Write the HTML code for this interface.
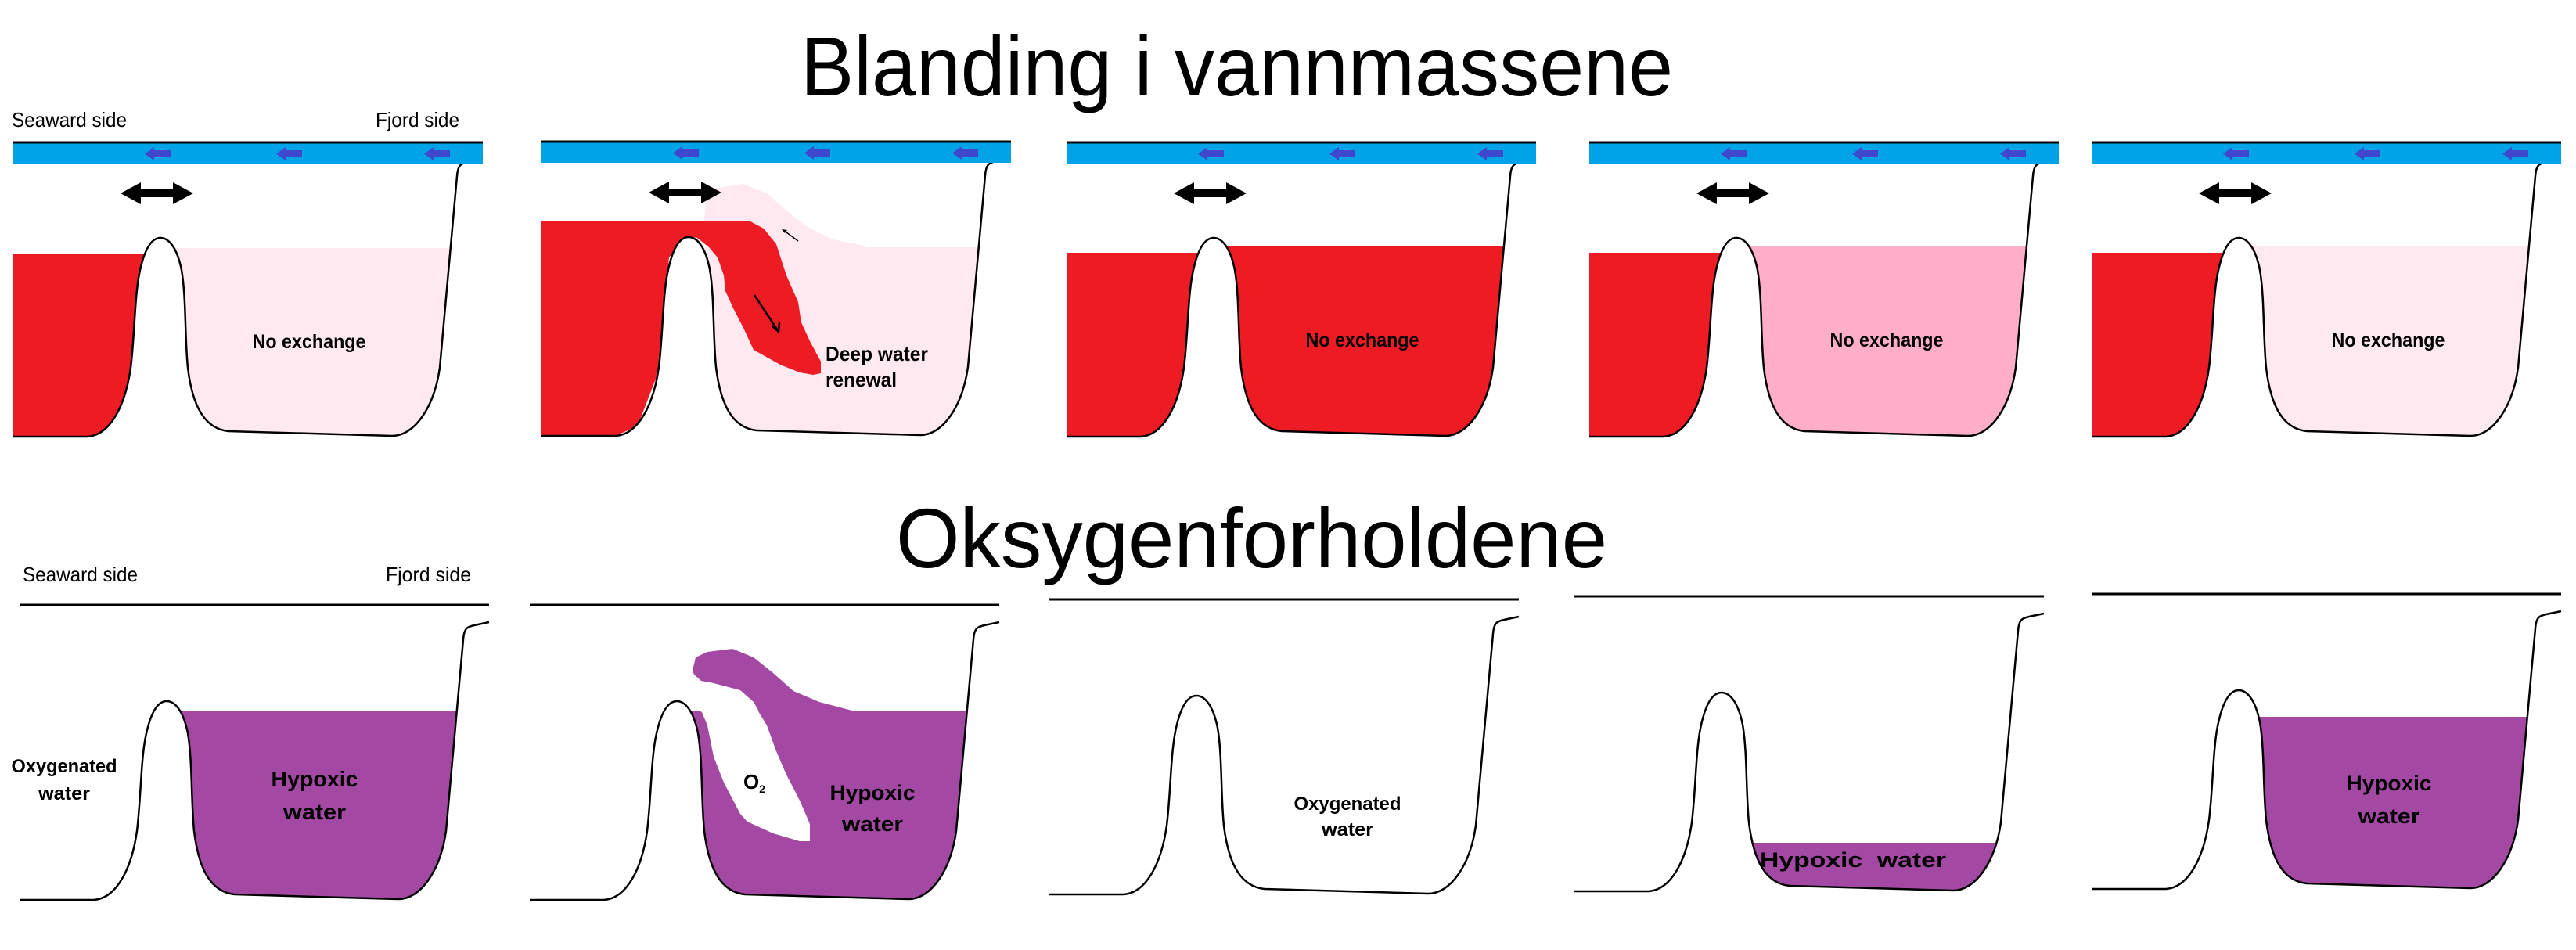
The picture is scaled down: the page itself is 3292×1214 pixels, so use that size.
<!DOCTYPE html>
<html><head><meta charset="utf-8"><style>html,body{margin:0;padding:0;background:#fff}svg{display:block}</style></head>
<body>
<svg xmlns="http://www.w3.org/2000/svg" width="3292" height="1214" viewBox="0 0 3292 1214" font-family="'Liberation Sans', sans-serif">
<defs>
<clipPath id="bc" clipPathUnits="userSpaceOnUse"><path d="M205,304 C215,304 226,315 232,345 C238,380 236,430 240,470 C246,520 262,548 292,551 L501,557 C530,557 555,520 562,470 L584,225 L584,150 L205,150 Z"/></clipPath>
<clipPath id="sc" clipPathUnits="userSpaceOnUse"><path d="M17,150 L205,150 L205,304 C195,304 185,315 178,350 C172,380 172,430 167,470 C160,520 140,556 112,558 L17,558 Z"/></clipPath>
<g id="sill"><path d="M112,558 C140,556 160,520 167,470 C172,430 172,380 178,350 C185,315 195,304 205,304 C215,304 226,315 232,345 C238,380 236,430 240,470 C246,520 262,548 292,551 Z" fill="#fff"/></g>
<g id="outline"><path d="M17,558 L112,558 C140,556 160,520 167,470 C172,430 172,380 178,350 C185,315 195,304 205,304 C215,304 226,315 232,345 C238,380 236,430 240,470 C246,520 262,548 292,551 L501,557 C530,557 555,520 562,470 L584,225 C585,212 588,209 598,207 L617,203" fill="none" stroke="#000" stroke-width="2.5"/></g>
<g id="bar">
<rect x="17" y="183" width="600" height="26" fill="#00A2E8"/>
<line x1="17" y1="182" x2="617" y2="182" stroke="#000" stroke-width="3"/>
<g fill="#3F48CC">
<path d="M185,196.5 L197,188 L197,192 L218,192 L218,201 L197,201 L197,205 Z"/>
<path d="M353,196.5 L365,188 L365,192 L386,192 L386,201 L365,201 L365,205 Z"/>
<path d="M542,196.5 L554,188 L554,192 L575,192 L575,201 L554,201 L554,205 Z"/>
</g></g>
<path id="darr" d="M154,247 L180,233 L180,242 L221,242 L221,233 L247,247 L221,261 L221,252 L180,252 L180,261 Z" fill="#000"/>
<line id="bline" x1="17" y1="181" x2="617" y2="181" stroke="#000" stroke-width="3"/>
</defs>

<text x="1023" y="122" font-size="108" textLength="1115" lengthAdjust="spacingAndGlyphs">Blanding i vannmassene</text>
<text x="1145" y="725" font-size="108" textLength="909" lengthAdjust="spacingAndGlyphs">Oksygenforholdene</text>

<!-- TOP 1 -->
<g>
<rect x="200" y="317" width="400" height="250" fill="#FDE9EF" clip-path="url(#bc)"/>
<rect x="17" y="325" width="200" height="240" fill="#ED1C24" clip-path="url(#sc)"/>
<use href="#sill"/><use href="#outline"/><use href="#bar"/><use href="#darr"/>
<text x="15" y="162" font-size="26" textLength="147" lengthAdjust="spacingAndGlyphs">Seaward side</text>
<text x="480" y="162" font-size="26" textLength="107" lengthAdjust="spacingAndGlyphs">Fjord side</text>
<text x="395" y="445" font-size="25" font-weight="bold" text-anchor="middle" textLength="145" lengthAdjust="spacingAndGlyphs">No exchange</text>
</g>

<!-- TOP 2 -->
<g transform="translate(675,-1)">
<rect x="200" y="317" width="400" height="250" fill="#FDE9EF" clip-path="url(#bc)"/>
<path d="M225,283 L225,280 L227,253 L237,242 L275,236 L305,248 L330,270 L355,290 L389,307 L431,315 L431,330 L330,330 L282,283 Z" fill="#FDE9EF"/>
<path d="M17,283 L282,283 L301,293 L317,313 L330,353 L345,387 L349,413 L360,437 L374,463 L374,478 L364,480 L347,477 L322,467 L288,448 L275,420 L263,397 L252,373 L250,353 L242,330 L231,317 L216,305 L205,303 L180,330 L165,480 L140,545 L112,558 L17,558 Z" fill="#ED1C24"/>
<use href="#sill"/><use href="#outline"/><use href="#bar"/><use href="#darr"/>
<line x1="345" y1="309" x2="326" y2="295" stroke="#000" stroke-width="1.5"/>
<path d="M324,294 L331,295 L328,299 Z" fill="#000"/>
<line x1="289" y1="378" x2="320" y2="425" stroke="#000" stroke-width="2.5"/>
<path d="M311,417 L320,425 L321,413" fill="none" stroke="#000" stroke-width="2.5"/>
<text x="380" y="462" font-size="26" font-weight="bold" textLength="131" lengthAdjust="spacingAndGlyphs">Deep water</text>
<text x="380" y="495" font-size="26" font-weight="bold" textLength="91" lengthAdjust="spacingAndGlyphs">renewal</text>
</g>

<!-- TOP 3 -->
<g transform="translate(1346,0)">
<rect x="200" y="315" width="400" height="250" fill="#ED1C24" clip-path="url(#bc)"/>
<rect x="17" y="323" width="200" height="240" fill="#ED1C24" clip-path="url(#sc)"/>
<use href="#sill"/><use href="#outline"/><use href="#bar"/><use href="#darr"/>
<text x="395" y="443" font-size="25" font-weight="bold" text-anchor="middle" textLength="145" lengthAdjust="spacingAndGlyphs">No exchange</text>
</g>

<!-- TOP 4 -->
<g transform="translate(2014,0)">
<rect x="200" y="315" width="400" height="250" fill="#FFAEC9" clip-path="url(#bc)"/>
<rect x="17" y="323" width="200" height="240" fill="#ED1C24" clip-path="url(#sc)"/>
<use href="#sill"/><use href="#outline"/><use href="#bar"/><use href="#darr"/>
<text x="397" y="443" font-size="25" font-weight="bold" text-anchor="middle" textLength="145" lengthAdjust="spacingAndGlyphs">No exchange</text>
</g>

<!-- TOP 5 -->
<g transform="translate(2656,0)">
<rect x="200" y="315" width="400" height="250" fill="#FDE9EF" clip-path="url(#bc)"/>
<rect x="17" y="323" width="200" height="240" fill="#ED1C24" clip-path="url(#sc)"/>
<use href="#sill"/><use href="#outline"/><use href="#bar"/><use href="#darr"/>
<text x="396" y="443" font-size="25" font-weight="bold" text-anchor="middle" textLength="145" lengthAdjust="spacingAndGlyphs">No exchange</text>
</g>

<!-- BOTTOM 1 -->
<g transform="translate(8,592)">
<rect x="200" y="316" width="400" height="250" fill="#A349A4" clip-path="url(#bc)"/>
<use href="#sill"/><use href="#outline"/><use href="#bline"/>
<text x="21" y="151" font-size="26" textLength="147" lengthAdjust="spacingAndGlyphs">Seaward side</text>
<text x="485" y="151" font-size="26" textLength="109" lengthAdjust="spacingAndGlyphs">Fjord side</text>
<text x="74" y="395" font-size="24" font-weight="bold" text-anchor="middle" textLength="135" lengthAdjust="spacingAndGlyphs">Oxygenated</text>
<text x="74" y="430" font-size="24" font-weight="bold" text-anchor="middle" textLength="66" lengthAdjust="spacingAndGlyphs">water</text>
<text x="394" y="413" font-size="28" font-weight="bold" text-anchor="middle" textLength="111" lengthAdjust="spacingAndGlyphs">Hypoxic</text>
<text x="394" y="455" font-size="28" font-weight="bold" text-anchor="middle" textLength="80" lengthAdjust="spacingAndGlyphs">water</text>
</g>

<!-- BOTTOM 2 -->
<g transform="translate(660,592)">
<rect x="200" y="316" width="400" height="250" fill="#A349A4" clip-path="url(#bc)"/>
<path d="M225,265 L229,248 L244,241 L276,237 L303,248 L328,268 L354,291 L387,305 L429,316 L429,330 L320,335 L303,305 L286,290 L252,281 L236,278 L227,270 Z" fill="#A349A4"/>
<use href="#sill"/>
<path d="M233,316 L237,318 L244,335 L252,375 L265,408 L286,448 L295,458 L328,473 L362,483 L375,483 L375,461 L362,431 L345,398 L332,368 L320,335 L306,312 L250,312 Z" fill="#fff"/>
<use href="#outline"/><use href="#bline"/>
<text x="290" y="416" font-size="26" font-weight="bold">O<tspan font-size="14" dy="5">2</tspan></text>
<text x="455" y="430" font-size="27" font-weight="bold" text-anchor="middle" textLength="109" lengthAdjust="spacingAndGlyphs">Hypoxic</text>
<text x="455" y="470" font-size="27" font-weight="bold" text-anchor="middle" textLength="78" lengthAdjust="spacingAndGlyphs">water</text>
</g>

<!-- BOTTOM 3 -->
<g transform="translate(1324,585)">
<use href="#sill"/><use href="#outline"/><use href="#bline"/>
<text x="398" y="450" font-size="24" font-weight="bold" text-anchor="middle" textLength="137" lengthAdjust="spacingAndGlyphs">Oxygenated</text>
<text x="398" y="483" font-size="24" font-weight="bold" text-anchor="middle" textLength="66" lengthAdjust="spacingAndGlyphs">water</text>
</g>

<!-- BOTTOM 4 -->
<g transform="translate(1995,581)">
<rect x="200" y="496" width="400" height="80" fill="#A349A4" clip-path="url(#bc)"/>
<use href="#sill"/><use href="#outline"/><use href="#bline"/>
<text x="254" y="527" font-size="27" font-weight="bold" xml:space="preserve" textLength="238" lengthAdjust="spacingAndGlyphs">Hypoxic  water</text>
</g>

<!-- BOTTOM 5 -->
<g transform="translate(2656,578)">
<rect x="200" y="338" width="400" height="250" fill="#A349A4" clip-path="url(#bc)"/>
<use href="#sill"/><use href="#outline"/><use href="#bline"/>
<text x="397" y="432" font-size="27" font-weight="bold" text-anchor="middle" textLength="109" lengthAdjust="spacingAndGlyphs">Hypoxic</text>
<text x="397" y="474" font-size="27" font-weight="bold" text-anchor="middle" textLength="79" lengthAdjust="spacingAndGlyphs">water</text>
</g>
</svg>
</body></html>
